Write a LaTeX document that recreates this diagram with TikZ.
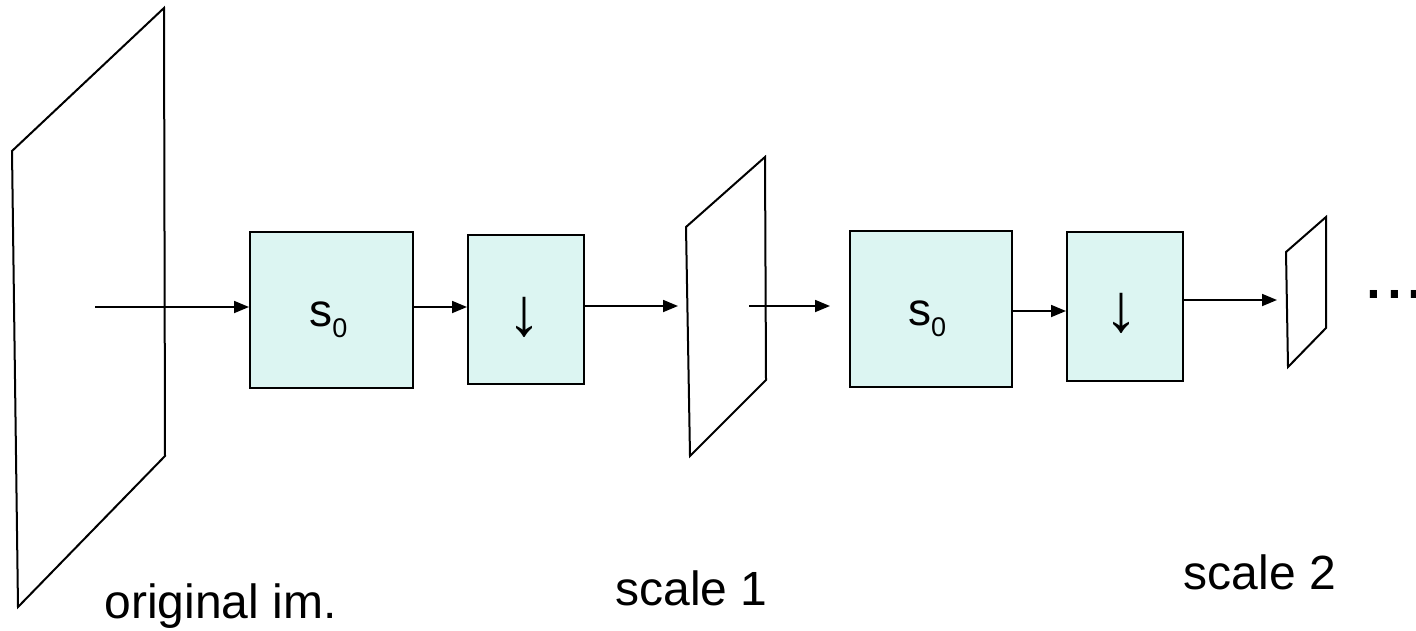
\documentclass[tikz,border=0pt]{standalone}
\usepackage{fontspec}
\setmainfont{Liberation Sans}
\usetikzlibrary{arrows.meta}
\definecolor{boxfill}{RGB}{220,245,242}
\begin{document}
\begin{tikzpicture}[x=1pt,y=-1pt,
  edge/.style={line width=2pt,line join=miter},
  arr/.style={line width=1.8pt,-{Triangle[length=15pt,width=12pt]}},
  block/.style={draw,line width=2pt,fill=boxfill,inner sep=0pt},
  lbl/.style={font=\fontsize{48}{56}\selectfont,inner sep=0pt},
  sym/.style={font=\fontsize{46}{54}\selectfont,inner sep=0pt},
  down/.style={font=\fontsize{68}{76}\selectfont,inner sep=0pt},
]
\useasboundingbox (0,0) rectangle (1416,630);

% image planes at the three scales
\draw[edge] (12,151) -- (164,8) -- (165,456) -- (18,607) -- cycle;
\draw[edge] (686,227) -- (765,157) -- (766,380) -- (690,456) -- cycle;
\draw[edge] (1286,252) -- (1326,217) -- (1326,328) -- (1288,367) -- cycle;

% processing blocks
\node[block,minimum width=163pt,minimum height=156pt] (b1) at (331.5,310) {};
\node[block,minimum width=116pt,minimum height=149pt] (b2) at (526,309.5) {};
\node[block,minimum width=162pt,minimum height=156pt] (b3) at (931,309) {};
\node[block,minimum width=116pt,minimum height=149pt] (b4) at (1125,306.5) {};

% block labels
\node[sym,anchor=base] (s1) at ([xshift=-3pt,yshift=-16pt]b1.center)
  {s\raisebox{-11pt}{\fontsize{27}{30}\selectfont 0}};
\node[sym,anchor=base] (s2) at ([xshift=-4pt,yshift=-16pt]b3.center)
  {s\raisebox{-11pt}{\fontsize{27}{30}\selectfont 0}};
\node[down] (d1) at (524,317.5) {↓};
\node[down] (d2) at (1121,313.5) {↓};

% free ends of the connectors
\coordinate (in0) at (95,307);
\coordinate (p1in) at (678,306);
\coordinate (p1out) at (749,306);
\coordinate (b3in) at (830,306);
\coordinate (p2in) at (1277,300);

% connectors
\draw[arr] (in0) -- (b1.west |- 0,307);
\draw[arr] (b1.east |- 0,307) -- (b2.west |- 0,307);
\draw[arr] (b2.east |- 0,306) -- (p1in);
\draw[arr] (p1out) -- (b3in);
\draw[arr] ([xshift=-2pt]b3.east |- 0,311) -- (b4.west |- 0,311);
\draw[arr] (b4.east |- 0,300) -- (p2in);

% captions
\node[lbl,anchor=base] (t0) at (220.5,618) {original im.};
\node[lbl,anchor=base] (t1) at (691.5,605) {scale 1};
\node[lbl,anchor=base] (t2) at (1260,589) {scale 2};
\node[font=\fontsize{75}{80}\selectfont,inner sep=0pt,anchor=base west] (dots) at (1363,298) {...};
\end{tikzpicture}
\end{document}
